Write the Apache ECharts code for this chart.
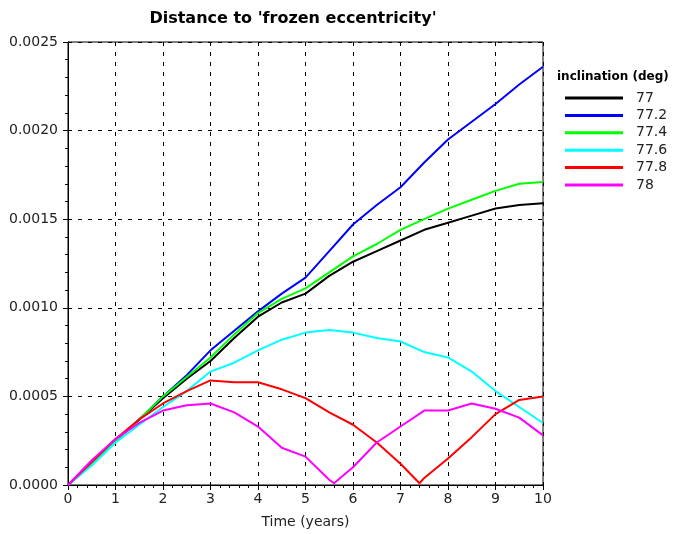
<!DOCTYPE html>
<html>
<head>
<meta charset="utf-8">
<script src="https://cdn.jsdelivr.net/npm/echarts@6/dist/echarts.min.js"></script>
<style>
  html, body { margin: 0; padding: 0; background: #fff; }
  #chart { width: 674px; height: 534px; }
</style>
</head>
<body>
<div id="chart"></div>
<script>
// time samples (years)
const times = [0, 0.5, 1, 1.5, 2, 2.5, 3, 3.5, 4, 4.5, 5, 5.5, 6, 6.5, 7, 7.5, 8, 8.5, 9, 9.5, 10];

const inc77 = [0, 0.00012, 0.00025, 0.00037, 0.00049, 0.0006, 0.0007, 0.00083, 0.00095, 0.00103, 0.00108,
  0.00118, 0.00126, 0.00132, 0.00138, 0.00144, 0.00148, 0.00152, 0.00156, 0.00158, 0.00159];
const inc772 = [0, 0.00012, 0.00025, 0.00037, 0.0005, 0.00062, 0.00076, 0.00087, 0.00098, 0.00108, 0.00117,
  0.00132, 0.00147, 0.00158, 0.00168, 0.00182, 0.00195, 0.00205, 0.00215, 0.00226, 0.00236];
const inc774 = [0, 0.00012, 0.00025, 0.00037, 0.0005, 0.00061, 0.00072, 0.00085, 0.00097, 0.00105, 0.00111,
  0.0012, 0.00129, 0.00136, 0.00144, 0.0015, 0.00156, 0.00161, 0.00166, 0.0017, 0.00171];
const inc776 = [0, 0.00011, 0.00024, 0.00034, 0.00044, 0.00053, 0.00064, 0.00069, 0.00076, 0.00082, 0.00086,
  0.000875, 0.00086, 0.00083, 0.00081, 0.00075, 0.00072, 0.00064, 0.00053, 0.00044, 0.00035];

// red / magenta have their own samples around the minima
const times778 = [0, 0.5, 1, 1.5, 2, 2.5, 3, 3.5, 4, 4.5, 5, 5.5, 6, 6.5, 7, 7.4, 7.5, 8, 8.5, 9, 9.5, 10];
const inc778 = [0, 0.00013, 0.00026, 0.00037, 0.00046, 0.00053, 0.00059, 0.00058, 0.00058, 0.00054, 0.00049,
  0.00041, 0.00034, 0.00024, 0.00012, 0.00001, 0.00004, 0.00015, 0.00027, 0.0004, 0.00048, 0.0005];
const times78 = [0, 0.5, 1, 1.5, 2, 2.5, 3, 3.5, 4, 4.5, 5, 5.5, 5.6, 6, 6.5, 7, 7.5, 8, 8.5, 9, 9.5, 10];
const inc78 = [0, 0.00014, 0.00026, 0.00035, 0.00042, 0.00045, 0.00046, 0.00041, 0.00033, 0.00021, 0.00016,
  0.00003, 0.00001, 0.0001, 0.00024, 0.00033, 0.00042, 0.00042, 0.00046, 0.00043, 0.00038, 0.00028];

const seriesNames = ['77', '77.2', '77.4', '77.6', '77.8', '78'];
const seriesColors = ['#000000', '#0000ff', '#00ff00', '#00ffff', '#ff0000', '#ff00ff'];

const zip = (xs, ys) => xs.map((x, i) => [x, ys[i]]);
const seriesData = [
  zip(times, inc77),
  zip(times, inc772),
  zip(times, inc774),
  zip(times, inc776),
  zip(times778, inc778),
  zip(times78, inc78)
];

const chart = echarts.init(document.getElementById('chart'));
const font = 'DejaVu Sans, sans-serif';

const option = {
  backgroundColor: '#fff',
  animation: false,
  title: [
    {
      text: "Distance to 'frozen eccentricity'",
      left: 293, top: 11, textAlign: 'center', padding: 0,
      textStyle: { fontFamily: font, fontSize: 16, fontWeight: 'bold', color: '#000' }
    },
    {
      text: 'inclination (deg)',
      left: 557, top: 71, padding: 0,
      textStyle: { fontFamily: font, fontSize: 12, fontWeight: 'bold', color: '#000' }
    }
  ],
  legend: {
    orient: 'vertical',
    left: 565, top: 91, padding: 0,
    itemWidth: 58, itemHeight: 3, itemGap: 3.4,
    icon: 'rect',
    textStyle: { fontFamily: font, fontSize: 14, color: '#222', lineHeight: 14, padding: [0, 0, 0, 8] },
    data: seriesNames
  },
  grid: {
    left: 68, right: 131, top: 42, bottom: 49,
    show: true, borderColor: '#000', borderWidth: 1
  },
  xAxis: {
    type: 'value',
    min: 0, max: 10, interval: 1,
    name: 'Time (years)', nameLocation: 'middle', nameGap: 30,
    nameTextStyle: { fontFamily: font, fontSize: 14, color: '#222' },
    axisLine: { lineStyle: { color: '#000' } },
    axisTick: { length: 5, lineStyle: { color: '#000' } },
    minorTick: { show: true, splitNumber: 5, length: 3, lineStyle: { color: '#000' } },
    axisLabel: { fontFamily: font, fontSize: 14, color: '#222', margin: 7 },
    splitLine: { show: true, lineStyle: { color: '#000', type: [4, 6], width: 1 } }
  },
  yAxis: {
    type: 'value',
    min: 0, max: 0.0025, interval: 0.0005,
    axisLine: { show: true, lineStyle: { color: '#000' } },
    axisTick: { show: true, length: 5, lineStyle: { color: '#000' } },
    minorTick: { show: true, splitNumber: 5, length: 3, lineStyle: { color: '#000' } },
    axisLabel: { fontFamily: font, fontSize: 14, color: '#222', margin: 10,
      formatter: v => v.toFixed(4) },
    splitLine: { show: true, lineStyle: { color: '#000', type: [4, 6], width: 1 } }
  },
  series: seriesNames.map((name, i) => ({
    name: name,
    type: 'line',
    data: seriesData[i],
    showSymbol: false,
    symbol: 'none',
    color: seriesColors[i],
    lineStyle: { width: 2, color: seriesColors[i] }
  }))
};

chart.setOption(option);
</script>
</body>
</html>
